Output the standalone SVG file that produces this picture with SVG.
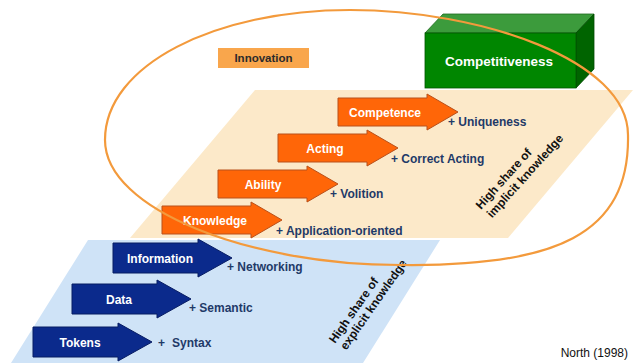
<svg xmlns="http://www.w3.org/2000/svg" xmlns:xlink="http://www.w3.org/1999/xlink" width="633" height="363" viewBox="0 0 633 363">
  <defs>
    <style>
      text { font-family: "Liberation Sans", Arial, sans-serif; }
      .arrow-o { fill: #FF6608; stroke: #B9501A; stroke-width: 1; }
      .arrow-b { fill: #0B2A8C; stroke: #071C63; stroke-width: 1; }
      .in-o { fill: #FFFFFF; font-size: 12px; font-weight: bold; text-anchor: middle; }
      .in-b { fill: #FFFFFF; font-size: 12px; font-weight: bold; text-anchor: middle; }
      .plus { fill: #1F3A68; font-size: 12px; font-weight: bold; }
      .share { fill: #111111; font-size: 12px; font-weight: bold; }
    </style>
    <!-- arrow outlines, anchored at the left end of the body, vertically centred -->
    <path id="arrowOrange" d="M0,-14 H89 V-18 L120,0 L89,18 V14 H0 Z"/>
    <path id="arrowBlue" d="M0,-15 H85 V-19 L119,0 L85,19 V15 H0 Z"/>
  </defs>

  <rect width="633" height="363" fill="#FFFFFF"/>

  <!-- background bands -->
  <g id="band-implicit">
    <polygon points="255,90 633,90 508,238 130,238" fill="#FCE9C9"/>
  </g>
  <g id="band-explicit">
    <polygon points="88,240 440,240 363,363 11,363" fill="#CFE3F7"/>
  </g>

  <!-- Innovation tag -->
  <g id="innovation">
    <rect x="218" y="48" width="91" height="20" fill="#F9A64C"/>
    <text x="263.5" y="62" font-size="11.5" font-weight="bold" fill="#2B2B2B" text-anchor="middle">Innovation</text>
  </g>

  <!-- Competitiveness block -->
  <g id="competitiveness">
    <polygon points="425,33 443,14 594,14 576,33" fill="#3C9B3C" stroke="#1E6B1E" stroke-width="0.8"/>
    <polygon points="576,33 594,14 594,69 576,88" fill="#006400" stroke="#004A00" stroke-width="0.8"/>
    <rect x="425" y="33" width="151" height="55" fill="#008600" stroke="#005500" stroke-width="0.8"/>
    <text x="499" y="66" font-size="13.5" font-weight="bold" fill="#FFFFFF" text-anchor="middle">Competitiveness</text>
  </g>

  <!-- explicit knowledge steps -->
  <g id="tokens">
    <use xlink:href="#arrowBlue" href="#arrowBlue" x="33" y="342" class="arrow-b"/>
    <text x="80" y="346.5" class="in-b">Tokens</text>
    <text x="158" y="346.5" class="plus">+<tspan dx="7">Syntax</tspan></text>
  </g>
  <g id="data">
    <use xlink:href="#arrowBlue" href="#arrowBlue" x="72" y="299" class="arrow-b"/>
    <text x="119" y="303.5" class="in-b">Data</text>
    <text x="189" y="312" class="plus">+ Semantic</text>
  </g>
  <g id="information">
    <use xlink:href="#arrowBlue" href="#arrowBlue" x="113" y="258" class="arrow-b"/>
    <text x="160" y="262.5" class="in-b">Information</text>
    <text x="227" y="271" class="plus">+ Networking</text>
  </g>

  <!-- implicit knowledge steps -->
  <g id="knowledge">
    <use xlink:href="#arrowOrange" href="#arrowOrange" x="162" y="220" class="arrow-o"/>
    <text x="215" y="224.5" class="in-o">Knowledge</text>
    <text x="276" y="235" class="plus">+ Application-oriented</text>
  </g>
  <g id="ability">
    <use xlink:href="#arrowOrange" href="#arrowOrange" x="218" y="184" class="arrow-o"/>
    <text x="263" y="188.5" class="in-o">Ability</text>
    <text x="330" y="198" class="plus">+ Volition</text>
  </g>
  <g id="acting">
    <use xlink:href="#arrowOrange" href="#arrowOrange" x="278" y="148" class="arrow-o"/>
    <text x="325" y="152.5" class="in-o">Acting</text>
    <text x="391" y="163" class="plus">+ Correct Acting</text>
  </g>
  <g id="competence">
    <use xlink:href="#arrowOrange" href="#arrowOrange" x="338" y="112" class="arrow-o"/>
    <text x="385" y="116.5" class="in-o">Competence</text>
    <text x="448" y="126" class="plus">+ Uniqueness</text>
  </g>

  <!-- band captions -->
  <g id="caption-implicit" transform="translate(481,210) rotate(-48)">
    <text x="0" y="0" class="share">High share of</text>
    <text x="1" y="14" class="share">implicit knowledge</text>
  </g>
  <g id="caption-explicit" transform="translate(335,344) rotate(-55)">
    <text x="0" y="0" class="share">High share of</text>
    <text x="1" y="13" class="share">explicit knowledge</text>
  </g>

  <!-- innovation loop around the implicit steps -->
  <g id="connectors">
    <path d="M105,140 C105,65 215,10 350,10 C480,10 628,60 628,135 C630,235 555,267 400,265 C250,265 105,210 105,140 Z" fill="none" stroke="#F39A3C" stroke-width="2.2"/>
  </g>

  <text x="628" y="357" font-size="12" fill="#111111" text-anchor="end">North (1998)</text>
</svg>
